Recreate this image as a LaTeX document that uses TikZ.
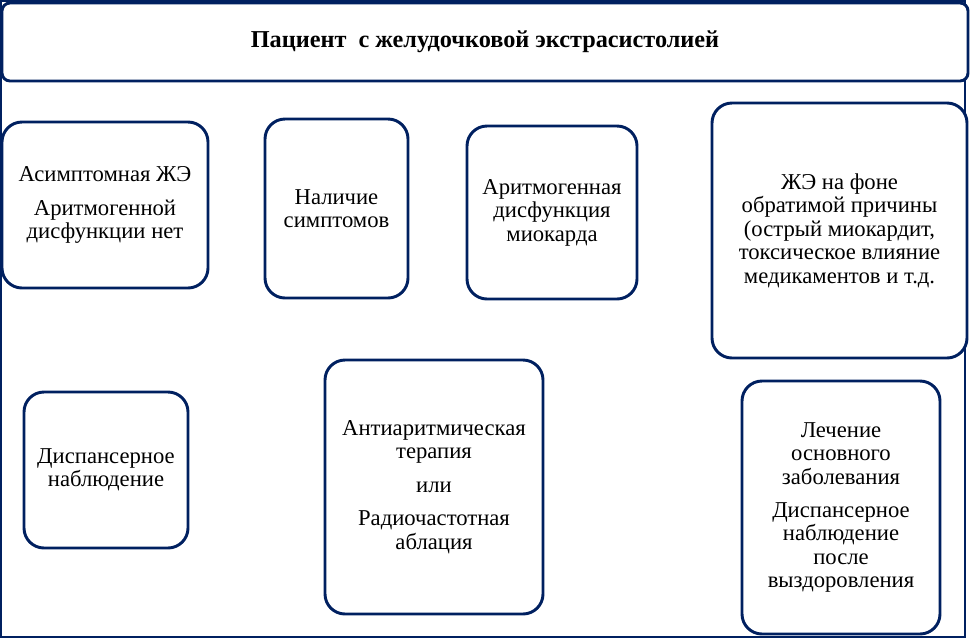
\documentclass[tikz,border=0pt]{standalone}
\usepackage{fontspec}
\setmainfont{Liberation Serif}
\definecolor{navy}{HTML}{002060}
\begin{document}
\begin{tikzpicture}[x=0.75pt,y=-0.75pt,
  box/.style={draw=navy, line width=2.2pt, rounded corners=15pt, fill=white,
    align=center, inner sep=0pt, font=\rmfamily\fontsize{17}{17.6}\selectfont},
  headbox/.style={draw=navy, line width=2.2pt, rounded corners=6pt, fill=white,
    align=center, inner sep=0pt, font=\rmfamily\fontsize{18.2}{18}\selectfont\bfseries}]
\useasboundingbox (0,0) rectangle (971,639);
\draw[navy, line width=1.4pt] (1,1) rectangle (965,637);
\node[headbox, minimum width=724.5pt, minimum height=58.5pt] (head) at (485,42)
  {Пациент\ \ с желудочковой экстрасистолией};
\node[box, minimum width=154.5pt, minimum height=124.5pt] (asym) at (105,205)
  {Асимптомная ЖЭ\\[7.5pt] Аритмогенной\\ дисфункции нет};
\node[box, minimum width=107.25pt, minimum height=134.25pt] (sympt) at (336.5,208.5)
  {Наличие\\ симптомов};
\node[box, minimum width=127.5pt, minimum height=129.75pt] (dysf) at (552,212.5)
  {Аритмогенная\\ дисфункция\\ миокарда};
\node[box, minimum width=191.25pt, minimum height=191.25pt] (rev) at (839.5,230.5)
  {ЖЭ на фоне\\ обратимой причины\\ (острый миокардит,\\ токсическое влияние\\ медикаментов и т.д.};
\node[box, minimum width=123pt, minimum height=117pt] (disp) at (106,470)
  {Диспансерное\\ наблюдение};
\node[box, minimum width=163.5pt, minimum height=190.5pt] (aat) at (434,487)
  {Антиаритмическая\\ терапия\\[7.5pt] или\\[7.5pt] Радиочастотная\\ аблация};
\node[box, minimum width=148.5pt, minimum height=189.75pt] (treat) at (841,507.5)
  {Лечение\\ основного\\ заболевания\\[7.5pt] Диспансерное\\ наблюдение\\ после\\ выздоровления};
\end{tikzpicture}
\end{document}
